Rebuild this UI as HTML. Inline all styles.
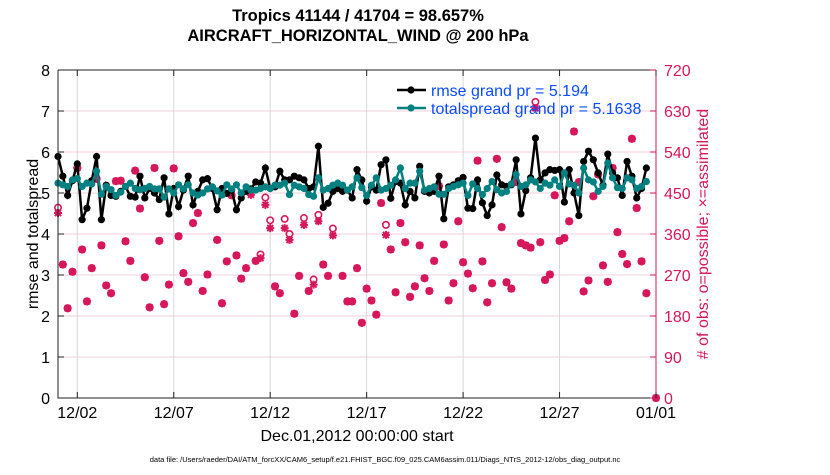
<!DOCTYPE html>
<html><head><meta charset="utf-8"><style>
body{margin:0;background:#fff;width:830px;height:470px;overflow:hidden}
svg{font-family:"Liberation Sans",sans-serif}
</style></head><body>
<svg id="chart" width="830" height="470" xmlns="http://www.w3.org/2000/svg">
<g id="grid"></g>
<g id="obs"></g>
<g id="lines"></g>
<g id="axes"></g>
<text x="358" y="21" text-anchor="middle" font-size="16.5" font-weight="bold">Tropics 41144 / 41704 = 98.657%</text>
<text x="358" y="41" text-anchor="middle" font-size="16.5" font-weight="bold">AIRCRAFT_HORIZONTAL_WIND @ 200 hPa</text>
<text transform="translate(38,234) rotate(-90)" text-anchor="middle" font-size="16">rmse and totalspread</text>
<text transform="translate(708,234) rotate(-90)" text-anchor="middle" font-size="16" fill="#d6175a"># of obs: o=possible; ×=assimilated</text>
<text x="357" y="441" text-anchor="middle" font-size="16">Dec.01,2012 00:00:00 start</text>
<text x="385" y="462" text-anchor="middle" font-size="7.5">data file: /Users/raeder/DAI/ATM_forcXX/CAM6_setup/f.e21.FHIST_BGC.f09_025.CAM6assim.011/Diags_NTrS_2012-12/obs_diag_output.nc</text>
<g>
<g>
<line x1="397" y1="90" x2="426" y2="90" stroke="#000" stroke-width="2.5"/><circle cx="411" cy="90" r="3.6" fill="#000"/>
<text x="431" y="96" font-size="16" fill="#0a4cff">rmse grand pr = 5.194</text></g>
<g>
<line x1="397" y1="108" x2="426" y2="108" stroke="#008080" stroke-width="2.5"/><circle cx="411" cy="108" r="3.6" fill="#008080"/>
<text x="431" y="114" font-size="16" fill="#0a4cff">totalspread grand pr = 5.1638</text></g>
</g>
</svg>
<script>
const rmse=[5.89,5.41,4.94,5.3,5.71,4.35,4.63,5.3,5.89,4.35,5.19,4.94,4.92,5.04,5.16,4.92,4.9,5.41,4.88,5.11,5.0,
4.84,5.37,4.49,5.11,4.67,5.07,5.41,4.71,5.04,5.32,5.35,5.11,4.59,5.11,4.99,5.07,4.59,4.88,5.04,
5.1,5.27,5.24,5.61,5.11,5.15,5.53,5.32,5.32,5.41,5.37,5.32,5.11,5.15,6.14,4.65,4.75,5.04,5.11,5.04,5.07,
4.88,5.57,5.32,4.8,5.15,5.07,5.69,5.81,4.87,5.28,5.24,4.71,5.04,4.88,5.65,5.04,5.0,5.04,5.41,4.37,5.15,
5.2,5.3,5.38,4.63,4.62,5.32,4.76,4.45,4.71,5.44,5.2,5.16,5.2,5.81,4.49,5.06,5.37,6.34,5.32,5.49,5.57,
5.55,5.57,4.78,5.57,5.0,4.45,5.77,6.02,5.81,5.49,5.19,5.95,5.49,5.37,4.94,5.77,5.41,4.88,5.11,5.61];
const spread=[5.24,5.2,5.16,5.32,5.35,5.16,5.24,5.22,5.53,4.97,5.16,5.08,4.94,5.02,5.16,5.24,5.11,5.08,5.11,5.16,5.1,
5.1,4.9,5.1,5.0,5.2,5.1,5.2,5.0,4.95,5.0,5.1,5.15,5.05,4.95,5.2,5.1,5.2,5.0,5.15,
5.07,5.07,5.11,5.15,5.11,5.19,5.19,5.24,4.96,5.19,5.15,5.11,4.96,4.92,5.37,5.07,5.11,5.19,5.24,5.19,5.07,
5.15,5.37,5.13,4.94,5.19,5.37,5.07,5.11,5.19,5.32,5.61,5.11,5.24,5.24,5.53,5.07,5.11,5.15,4.97,4.97,5.11,
5.16,5.2,5.24,4.94,5.22,5.11,4.96,5.11,5.28,5.08,5.0,5.04,5.22,5.45,5.16,5.2,5.32,5.27,5.11,5.24,5.19,
5.32,5.16,5.49,5.22,5.19,5.0,5.61,5.32,5.27,5.04,5.16,5.73,5.37,5.13,5.11,5.37,5.32,5.11,5.16,5.28];
const nAssim=[406,293,197,277,505,326,212,285,481,335,247,230,476,477,344,301,499,416,265,199,505,
345,206,249,504,355,274,255,384,406,235,271,461,347,208,300,445,313,262,285,
446,301,307,424,373,245,230,373,347,185,268,380,235,249,388,293,268,357,468,268,212,
212,285,165,240,214,183,428,358,326,232,384,342,222,245,335,263,235,301,465,337,214,
252,388,298,273,241,521,300,210,252,525,375,254,240,474,340,335,330,636,342,259,271,
445,345,351,388,585,474,234,258,443,491,291,255,505,364,316,294,569,417,300,230,null,0];
const nPoss=[418,293,197,277,505,326,212,285,481,335,247,230,476,477,344,301,499,416,265,199,505,
345,206,249,504,355,274,255,384,406,235,271,461,347,208,300,445,313,262,285,
455,301,315,440,390,245,230,393,360,185,268,395,235,260,402,293,268,372,468,268,212,
212,285,165,240,214,183,428,380,326,232,384,342,222,245,335,263,235,301,465,337,214,
252,388,298,273,241,521,300,210,252,525,375,254,240,474,340,335,330,650,342,259,271,
445,345,351,388,585,474,234,258,443,491,291,255,505,364,316,294,569,417,300,230,null,0];
const yTicks=[0,1,2,3,4,5,6,7,8];
const y2Ticks=[0,90,180,270,360,450,540,630,720];
const xTickDays=[1,6,11,16,21,26,31];
const xTickLabels=["12/02","12/07","12/12","12/17","12/22","12/27","01/01"];
const binDays=0.25;

const L=58,R=656,T=70,B=398, NS="http://www.w3.org/2000/svg";
const xS=d=>L+(R-L)*d/31, yS=v=>B-(B-T)*v/8, y2S=v=>B-(B-T)*v/720;
function mk(parent,tag,attrs){const e=document.createElementNS(NS,tag);for(const k in attrs)e.setAttribute(k,attrs[k]);document.getElementById(parent).appendChild(e);return e;}
const CR="#d6175a";
yTicks.forEach(v=>{if(v>0&&v<8){const g=mk('grid','line',{x1:L,x2:R,y1:yS(v),y2:yS(v),stroke:'#f3cfdc','stroke-width':1});

}});
xTickDays.forEach(d=>{if(d<31){const g=mk('grid','line',{x1:xS(d),x2:xS(d),y1:T,y2:B,stroke:'#d8d8d8','stroke-width':1});

}});
let a=mk('axes','path',{d:`M${L},${T}V${B}H${R}`,stroke:'#222',fill:'none','stroke-width':1});


a=mk('axes','line',{x1:L,x2:R,y1:T,y2:T,stroke:'#222','stroke-width':1});


a=mk('axes','line',{x1:R,x2:R,y1:T,y2:B,stroke:CR,'stroke-width':1});


yTicks.forEach(v=>{mk('axes','line',{x1:L,x2:L+6,y1:yS(v),y2:yS(v),stroke:'#222'});
const t=mk('axes','text',{x:L-8,y:yS(v)+6,'text-anchor':'end','font-size':16});t.textContent=v;

});
y2Ticks.forEach(v=>{mk('axes','line',{x1:R-6,x2:R,y1:y2S(v),y2:y2S(v),stroke:CR});
const t=mk('axes','text',{x:R+8,y:y2S(v)+6,'font-size':16,fill:CR});t.textContent=v;

});
xTickDays.forEach((d,i)=>{mk('axes','line',{x1:xS(d),x2:xS(d),y1:B,y2:B-6,stroke:'#222'});mk('axes','line',{x1:xS(d),x2:xS(d),y1:T,y2:T+6,stroke:'#222'});
const t=mk('axes','text',{x:xS(d),y:B+20,'text-anchor':'middle','font-size':16});t.textContent=xTickLabels[i];

});
nPoss.forEach((v,i)=>{if(v==null)return;const cx=xS(i*binDays),cy=y2S(v);
const c=mk('obs','circle',{cx:cx,cy:cy,r:3.2,fill:'none',stroke:CR,'stroke-width':1.6});

});
nAssim.forEach((v,i)=>{if(v==null)return;const cx=xS(i*binDays),cy=y2S(v);
const s=mk('obs','path',{d:`M${cx-4},${cy}H${cx+4}M${cx},${cy-4}V${cy+4}M${cx-3},${cy-3}L${cx+3},${cy+3}M${cx-3},${cy+3}L${cx+3},${cy-3}`,stroke:CR,'stroke-width':2});

});
function series(arr,col,name){
const p=mk('lines','polyline',{points:arr.map((v,i)=>xS(i*binDays)+','+yS(v)).join(' '),fill:'none',stroke:col,'stroke-width':2.5});


arr.forEach((v,i)=>{const c=mk('lines','circle',{cx:xS(i*binDays),cy:yS(v),r:3.6,fill:col});

});}
series(rmse,'#000','rmse');
series(spread,'#008080','totalspread');
</script>
</body></html>
